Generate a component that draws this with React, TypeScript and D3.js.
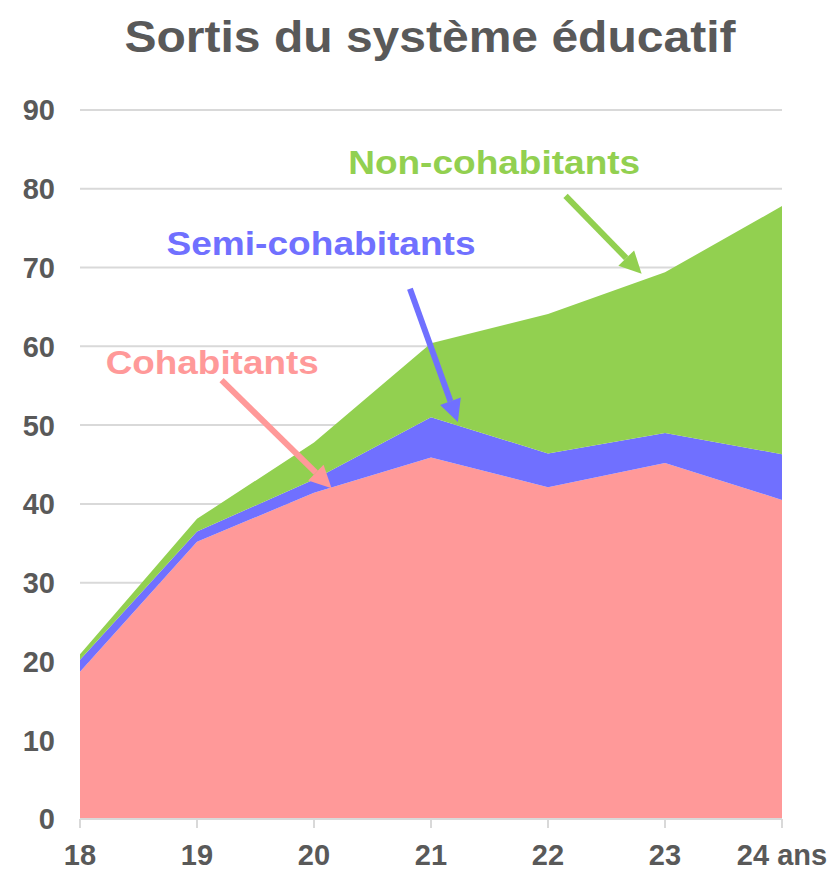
import React from "react";
import * as d3 from "d3";

const ages = [18, 19, 20, 21, 22, 23, 24];
const xTickLabels = ["18", "19", "20", "21", "22", "23", "24 ans"];
const cohabitants = [18.7, 35.2, 41.4, 45.9, 42.1, 45.2, 40.5];
const semiCohabitants = [1.5, 1.3, 1.7, 5.1, 4.3, 3.8, 5.8];
const nonCohabitants = [0.7, 1.6, 4.7, 9.4, 17.7, 20.4, 31.5];
const yTicks = [0, 10, 20, 30, 40, 50, 60, 70, 80, 90];
const seriesNames = ["Cohabitants", "Semi-cohabitants", "Non-cohabitants"];
const seriesColors = ["#ff9999", "#7070ff", "#92d050"];
// annotation labels [x, y] in data units
const labelPos: [number, number][] = [[19.13, 58.0], [20.06, 73.2], [21.54, 83.4]];
const labelWidths = [213, 309, 292];
// arrows [x1, y1, x2, y2] in data units
const arrows: [number, number, number, number][] = [
  [19.21, 55.7, 20.15, 42.0],
  [20.82, 67.3, 21.23, 50.4],
  [22.15, 79.1, 22.8, 69.2],
];

const W = 837;
const H = 871;
const left = 80;
const right = 782;
const top = 110;
const bottom = 819;

export default function App() {
  const x = d3.scaleLinear().domain([18, 24]).range([left, right]);
  const y = d3.scaleLinear().domain([0, 90]).range([bottom, top]);

  const rows = ages.map((a, i) => ({
    age: a,
    c: cohabitants[i],
    s: semiCohabitants[i],
    n: nonCohabitants[i],
  }));
  const stack = d3.stack<any>().keys(["c", "s", "n"])(rows);
  const area = d3
    .area<any>()
    .x((d) => x(d.data.age))
    .y0((d) => y(d[0]))
    .y1((d) => y(d[1]));

  const font = "Liberation Sans, Arial, sans-serif";
  const grey = "#595959";

  return (
    <svg width={W} height={H} style={{ position: "absolute", left: 0, top: 0 }}>
      <text x={430} y={52} textAnchor="middle" fontFamily={font} fontWeight="bold" fontSize={45} fill={grey}
        textLength={611} lengthAdjust="spacingAndGlyphs">
        Sortis du système éducatif
      </text>
      {yTicks.map((t) => (
        <g key={t}>
          {t > 0 && <line x1={left} x2={right} y1={y(t)} y2={y(t)} stroke="#d9d9d9" strokeWidth={2} />}
          <text x={55} y={y(t)} dy="0.36em" textAnchor="end" fontFamily={font} fontWeight="bold" fontSize={29} fill={grey}>
            {t}
          </text>
        </g>
      ))}
      {stack.map((s, i) => (
        <path key={i} d={area(s as any) || ""} fill={seriesColors[i]} />
      ))}
      <line x1={left} x2={right} y1={bottom} y2={bottom} stroke="#d9d9d9" strokeWidth={2} />
      {ages.map((a, i) => (
        <g key={a}>
          <line x1={x(a)} x2={x(a)} y1={bottom} y2={bottom + 9} stroke="#d9d9d9" strokeWidth={2} />
          <text x={x(a)} y={865} textAnchor="middle" fontFamily={font} fontWeight="bold" fontSize={29} fill={grey}>
            {xTickLabels[i]}
          </text>
        </g>
      ))}
      {arrows.map((a, i) => {
        const x1 = x(a[0]), y1 = y(a[1]), x2 = x(a[2]), y2 = y(a[3]);
        const ang = Math.atan2(y2 - y1, x2 - x1);
        const hl = 22, hw = 11;
        const bx = x2 - hl * Math.cos(ang), by = y2 - hl * Math.sin(ang);
        const px = -Math.sin(ang), py = Math.cos(ang);
        return (
          <g key={i}>
            <line x1={x1} y1={y1} x2={bx} y2={by} stroke={seriesColors[i]} strokeWidth={6} />
            <polygon
              points={`${x2},${y2} ${bx + px * hw},${by + py * hw} ${bx - px * hw},${by - py * hw}`}
              fill={seriesColors[i]}
            />
          </g>
        );
      })}
      {seriesNames.map((n, i) => (
        <text key={n} x={x(labelPos[i][0])} y={y(labelPos[i][1])} dy="0.36em" textAnchor="middle" fontFamily={font} fontWeight="bold" fontSize={34} fill={seriesColors[i]}
          textLength={labelWidths[i]} lengthAdjust="spacingAndGlyphs">
          {n}
        </text>
      ))}
    </svg>
  );
}
